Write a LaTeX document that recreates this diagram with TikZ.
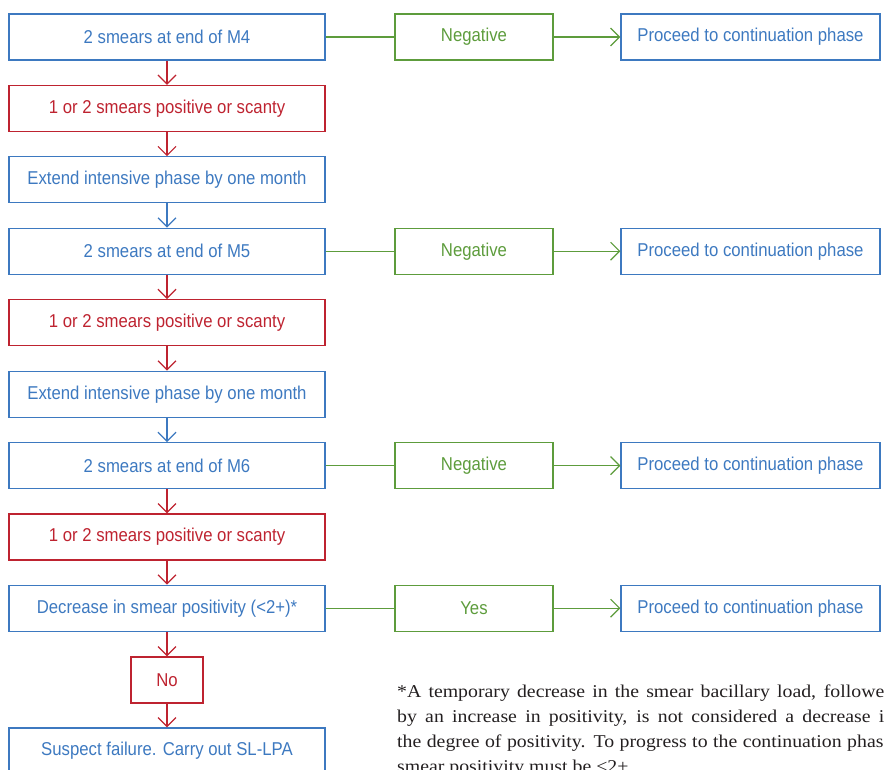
\documentclass[tikz,border=0pt]{standalone}
\usepackage{fontspec}
\setmainfont[FakeStretch=0.9]{Liberation Sans}
\newfontfamily\fnfont[FakeStretch=1.1]{Liberation Serif}
\usetikzlibrary{arrows.meta}
\definecolor{cblue}{RGB}{61,121,192}
\definecolor{cred}{RGB}{190,35,48}
\definecolor{cgreen}{RGB}{93,156,60}
\definecolor{ctext}{RGB}{35,31,32}
\begin{document}
\begin{tikzpicture}[x=1pt,y=-1pt,
  box/.style={draw, line width=1.2pt, minimum height=46pt, inner sep=0pt, font=\fontsize{18.6}{20}\selectfont},
  bluebox/.style={box, draw=cblue, text=cblue},
  redbox/.style={box, draw=cred, text=cred},
  greenbox/.style={box, draw=cgreen, text=cgreen},
  lbox/.style={minimum width=316pt},
  nbox/.style={minimum width=158pt},
  pbox/.style={minimum width=259pt},
  arr/.style={line width=1.2pt, -{Straight Barb[length=9pt,width=18pt]}},
  barr/.style={arr, draw=cblue},
  rarr/.style={arr, draw=cred},
  garr/.style={arr, draw=cgreen},
  gline/.style={line width=1.2pt, draw=cgreen},
  fn/.style={anchor=base west, inner sep=0pt, text=ctext, font=\fnfont\fontsize{18}{23}\selectfont},
]
\useasboundingbox (0,0) rectangle (884,769);
\clip (0,0) rectangle (884,769);

% left column
\node[bluebox,lbox] (m4) at (167,37) {2 smears at end of M4};
\node[redbox,lbox] (r1) at (167,108.4) {1 or 2 smears positive or scanty};
\node[bluebox,lbox] (e1) at (167,179.8) {Extend intensive phase by one month};
\node[bluebox,lbox] (m5) at (167,251.2) {2 smears at end of M5};
\node[redbox,lbox] (r2) at (167,322.6) {1 or 2 smears positive or scanty};
\node[bluebox,lbox] (e2) at (167,394.2) {Extend intensive phase by one month};
\node[bluebox,lbox] (m6) at (167,465.6) {2 smears at end of M6};
\node[redbox,lbox] (r3) at (167,537) {1 or 2 smears positive or scanty};
\node[bluebox,lbox] (dec) at (167,608.2) {Decrease in smear positivity (<2+)*};
\node[redbox,minimum width=72pt] (no) at (167,680) {No};
\node[bluebox,lbox] (sus) at (167,751) {Suspect failure. Carry out SL-LPA};

% middle column
\node[greenbox,nbox] (n1) at (474,37) {Negative};
\node[greenbox,nbox] (n2) at (474,251.2) {Negative};
\node[greenbox,nbox] (n3) at (474,465.6) {Negative};
\node[greenbox,nbox] (y1) at (474,608.2) {Yes};

% right column
\node[bluebox,pbox] (p1) at (750.5,37) {Proceed to continuation phase};
\node[bluebox,pbox] (p2) at (750.5,251.2) {Proceed to continuation phase};
\node[bluebox,pbox] (p3) at (750.5,465.6) {Proceed to continuation phase};
\node[bluebox,pbox] (p4) at (750.5,608.2) {Proceed to continuation phase};

% vertical arrows
\draw[rarr] (m4) -- (r1);
\draw[rarr] (r1) -- (e1);
\draw[barr] (e1) -- (m5);
\draw[rarr] (m5) -- (r2);
\draw[rarr] (r2) -- (e2);
\draw[barr] (e2) -- (m6);
\draw[rarr] (m6) -- (r3);
\draw[rarr] (r3) -- (dec);
\draw[rarr] (dec) -- (no);
\draw[rarr] (no) -- (sus);

% horizontal connectors
\draw[gline] (m4) -- (n1);
\draw[garr] (n1) -- (p1);
\draw[gline] (m5) -- (n2);
\draw[garr] (n2) -- (p2);
\draw[gline] (m6) -- (n3);
\draw[garr] (n3) -- (p3);
\draw[gline] (dec) -- (y1);
\draw[garr] (y1) -- (p4);

% footnote
\node[fn] (fn1) at (397,697) {\makebox[497pt][s]{*A temporary decrease in the smear bacillary load, followed}};
\node[fn] (fn2) at (397,722) {\makebox[497pt][s]{by an increase in positivity, is not considered a decrease in}};
\node[fn] (fn3) at (397,747) {\makebox[500pt][s]{the degree of positivity. To progress to the continuation phase,}};
\node[fn] (fn4) at (397,772) {smear positivity must be <2+.};
\end{tikzpicture}
\end{document}
